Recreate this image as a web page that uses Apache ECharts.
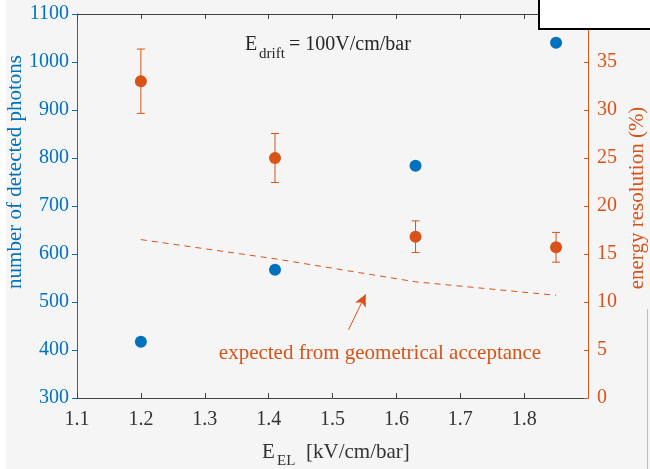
<!DOCTYPE html>
<html>
<head>
<meta charset="utf-8">
<script src="https://cdn.jsdelivr.net/npm/echarts@6/dist/echarts.min.js"></script>
<style>
    html, body { margin: 0; padding: 0; background: #f5f5f5; }
    #chart { width: 650px; height: 469px; }
</style>
</head>
<body>
<div id="chart"></div>
<script>
// data
var fieldEL = [1.2, 1.41, 1.63, 1.85];
var photons = [417, 567, 784, 1040];
var resolution = [33.0, 25.0, 16.8, 15.7];
var resError = [3.35, 2.55, 1.65, 1.55];
var expectedX = [1.2, 1.41, 1.63, 1.85];
var expectedRes = [16.5, 14.5, 12.1, 10.7];
// annotation arrow (data coords on right axis)
var arrowFrom = [1.525, 7.1];
var arrowTo = [1.552, 10.8];

var BLUE = '#0072BD';
var ORANGE = '#D95319';
var FONT = '"Liberation Serif", "Times New Roman", serif';

function serifText(x, y, text, size, color, align, rot) {
    return {
        type: 'text', x: x, y: y, rotation: rot || 0, z: 50,
        style: {
            text: text, fill: color, font: size + 'px ' + FONT,
            textAlign: align || 'left', textVerticalAlign: 'middle'
        }
    };
}

var option = {
    backgroundColor: '#f5f5f5',
    animation: false,
    textStyle: { fontFamily: FONT },
    grid: { left: 77, right: 62, top: 14, bottom: 71 },
    xAxis: [
        {
            type: 'value', min: 1.1, max: 1.9, interval: 0.1,
            axisLine: { lineStyle: { color: '#404040', width: 1 } },
            axisTick: { inside: true, length: 5, lineStyle: { color: '#404040' } },
            axisLabel: {
                color: '#333333', fontFamily: FONT, fontSize: 20, margin: 12,
                showMaxLabel: false,
                formatter: function (v) { return v.toFixed(1); }
            },
            splitLine: { show: false }
        },
        {
            type: 'value', position: 'top', min: 1.1, max: 1.9, interval: 0.1,
            axisLine: { lineStyle: { color: '#404040', width: 1 } },
            axisTick: { inside: true, length: 5, lineStyle: { color: '#404040' } },
            axisLabel: { show: false },
            splitLine: { show: false }
        }
    ],
    yAxis: [
        {
            type: 'value', min: 300, max: 1100, interval: 100,
            axisLine: { show: true, lineStyle: { color: BLUE, width: 1 } },
            axisTick: { show: true, length: 5, lineStyle: { color: BLUE } },
            axisLabel: {
                color: BLUE, fontFamily: FONT, fontSize: 20, margin: 8,
                formatter: function (v) { return String(v); }
            },
            splitLine: { show: false }
        },
        {
            type: 'value', min: 0, max: 40, interval: 5, position: 'right',
            axisLine: { show: true, lineStyle: { color: ORANGE, width: 1 } },
            axisTick: { show: true, inside: true, length: 4, lineStyle: { color: ORANGE } },
            axisLabel: {
                color: ORANGE, fontFamily: FONT, fontSize: 20, margin: 9, showMaxLabel: false,
                formatter: function (v) { return String(v); }
            },
            splitLine: { show: false }
        }
    ],
    series: [
        {
            name: 'photons', type: 'scatter', yAxisIndex: 0,
            symbolSize: 12,
            itemStyle: { color: BLUE, opacity: 1 },
            data: fieldEL.map(function (x, i) { return [x, photons[i]]; })
        },
        {
            name: 'expected', type: 'line', yAxisIndex: 1,
            showSymbol: false, symbol: 'none',
            lineStyle: { color: ORANGE, width: 1, type: [6, 5] },
            data: expectedX.map(function (x, i) { return [x, expectedRes[i]]; }),
            markLine: {
                silent: true, symbol: ['none', 'arrow'], symbolSize: [9, 12],
                label: { show: false },
                lineStyle: { color: ORANGE, type: 'solid', width: 1 },
                data: [[{ coord: arrowFrom }, { coord: arrowTo }]]
            }
        },
        {
            name: 'errors', type: 'custom', yAxisIndex: 1,
            encode: { x: 0, y: [1, 2] },
            data: fieldEL.map(function (x, i) {
                return [x, resolution[i] - resError[i], resolution[i] + resError[i]];
            }),
            renderItem: function (params, api) {
                var x = api.value(0);
                var lo = api.coord([x, api.value(1)]);
                var hi = api.coord([x, api.value(2)]);
                var w = 4;
                var st = { stroke: ORANGE, lineWidth: 1 };
                return {
                    type: 'group',
                    children: [
                        { type: 'line', shape: { x1: hi[0], y1: hi[1], x2: lo[0], y2: lo[1] }, style: st },
                        { type: 'line', shape: { x1: hi[0] - w, y1: hi[1], x2: hi[0] + w, y2: hi[1] }, style: st },
                        { type: 'line', shape: { x1: lo[0] - w, y1: lo[1], x2: lo[0] + w, y2: lo[1] }, style: st }
                    ]
                };
            }
        },
        {
            name: 'resolution', type: 'scatter', yAxisIndex: 1,
            symbolSize: 12, z: 5,
            itemStyle: { color: ORANGE, opacity: 1 },
            data: fieldEL.map(function (x, i) { return [x, resolution[i]]; })
        }
    ],
    graphic: [
        { type: 'rect', left: 0, top: 0, z: 40, shape: { width: 6, height: 469 }, style: { fill: '#ffffff' } },
        { type: 'rect', x: 647, y: 309, z: 40, shape: { width: 1, height: 160 }, style: { fill: '#f0a8a8' } },
        { type: 'rect', x: 539, y: -2, z: 60, shape: { width: 120, height: 31 }, style: { fill: '#ffffff', stroke: '#000000', lineWidth: 2 } },
        serifText(15, 172, 'number of detected photons', 21, BLUE, 'center', Math.PI / 2),
        serifText(637, 198, 'energy resolution (%)', 21, ORANGE, 'center', Math.PI / 2),
        serifText(262, 452, 'E', 21, '#333333'),
        serifText(277, 461, 'EL', 15, '#333333'),
        serifText(306, 452, '[kV/cm/bar]', 21, '#333333'),
        serifText(245, 45, 'E', 20, '#262626'),
        serifText(259, 54, 'drift', 15, '#262626'),
        serifText(289, 45, '= 100V/cm/bar', 20, '#262626'),
        serifText(380, 353, 'expected from geometrical acceptance', 21, ORANGE, 'center')
    ]
};

var chart = echarts.init(document.getElementById('chart'));
chart.setOption(option);
</script>
</body>
</html>
